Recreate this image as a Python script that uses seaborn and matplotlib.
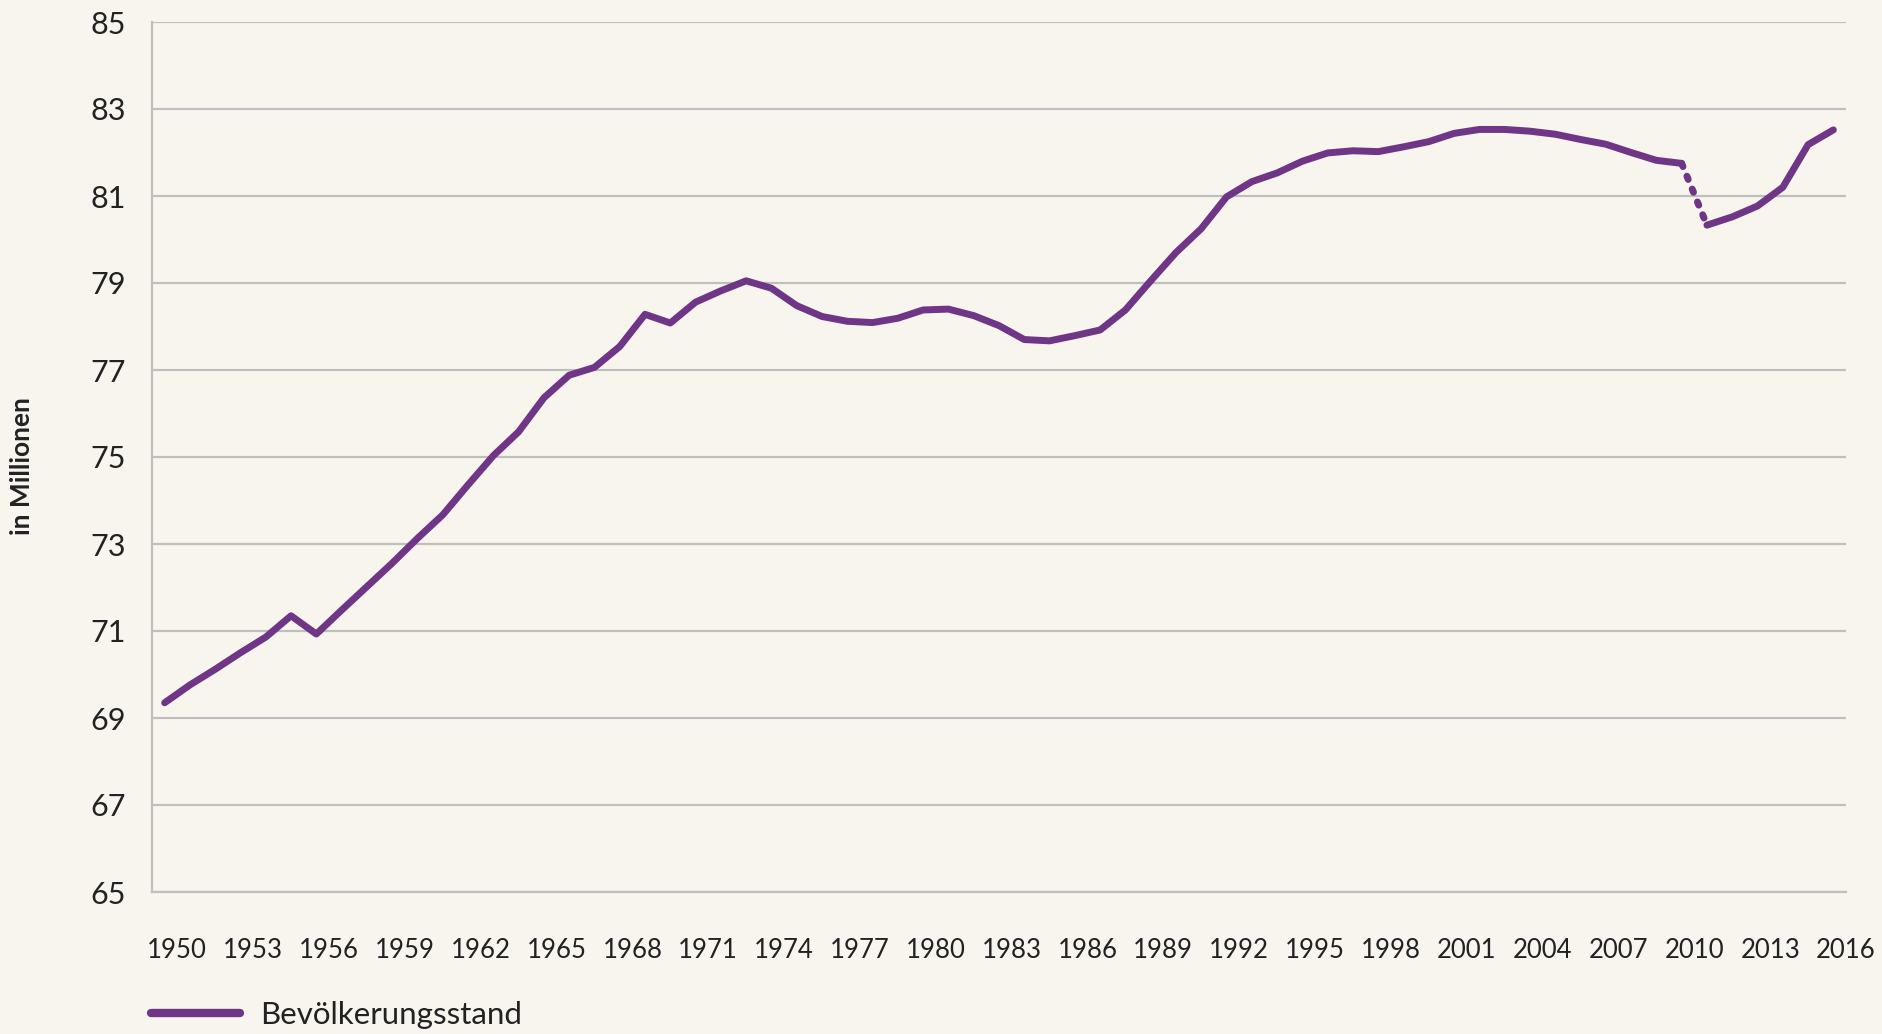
import matplotlib.pyplot as plt
import pandas as pd
import seaborn as sns

# Bevölkerungsstand Deutschland, 31.12., in Millionen
YEARS = list(range(1950, 2017))
POPULATION = [
    69.35, 69.76, 70.12, 70.50, 70.86, 71.35, 70.93, 71.48, 72.02, 72.56,
    73.13, 73.67, 74.36, 75.03, 75.58, 76.36, 76.88, 77.06, 77.54, 78.28,
    78.08, 78.56, 78.82, 79.05, 78.88, 78.48, 78.23, 78.12, 78.09, 78.19,
    78.38, 78.40, 78.25, 78.02, 77.70, 77.67, 77.79, 77.92, 78.38, 79.05,
    79.70, 80.25, 80.98, 81.33, 81.53, 81.80, 81.99, 82.04, 82.02, 82.13,
    82.25, 82.44, 82.53, 82.53, 82.49, 82.42, 82.30, 82.19, 82.00, 81.82,
    81.75, 80.33, 80.52, 80.77, 81.20, 82.18, 82.52,
]
BREAK_YEAR = 2010  # census correction 2010 -> 2011 drawn dotted
TICK_YEARS = list(range(1950, 2017, 3))
Y_TICKS = list(range(65, 86, 2))
SERIES = "Bevölkerungsstand"
Y_LABEL = "in Millionen"

PURPLE = "#6f3586"
BG = "#f7f5ee"
GRID = "#bfbfbf"
LW = 5.0

sns.set_theme(style="white")
plt.rcParams["font.family"] = ["Lato", "DejaVu Sans"]


def main() -> None:
    df = pd.DataFrame({"year": YEARS, "pop": POPULATION})
    before = df[df["year"] <= BREAK_YEAR]
    gap = df[df["year"].between(BREAK_YEAR, BREAK_YEAR + 1)]
    after = df[df["year"] >= BREAK_YEAR + 1]

    fig = plt.figure(figsize=(18.83, 10.34), dpi=100, facecolor=BG)
    ax = fig.add_axes([152 / 1883, 1 - 892 / 1034, (1846 - 152) / 1883, 870 / 1034])
    ax.set_facecolor(BG)

    sns.lineplot(data=before, x="year", y="pop", ax=ax, color=PURPLE, lw=LW,
                 solid_capstyle="round", solid_joinstyle="round", label=SERIES)
    sns.lineplot(data=gap, x="year", y="pop", ax=ax, color=PURPLE, lw=LW,
                 linestyle=(0, (0.5, 1.5)), dash_capstyle="round")
    sns.lineplot(data=after, x="year", y="pop", ax=ax, color=PURPLE, lw=LW,
                 solid_capstyle="round", solid_joinstyle="round")

    ax.set_xlim(YEARS[0] - 0.5, YEARS[-1] + 0.5)
    ax.set_ylim(Y_TICKS[0], Y_TICKS[-1])
    ax.set_yticks(Y_TICKS)
    ax.set_yticklabels([str(v) for v in Y_TICKS])
    # ticks sit on category boundaries, labels follow the ticks
    ax.set_xticks([y + 0.5 for y in TICK_YEARS])
    ax.set_xticklabels([str(y) for y in TICK_YEARS])

    ax.grid(axis="y", color=GRID, lw=1.6)
    ax.set_axisbelow(True)
    for side in ("top", "right"):
        ax.spines[side].set_visible(False)
    for side in ("left", "bottom"):
        ax.spines[side].set_color(GRID)
        ax.spines[side].set_linewidth(1.6)

    ax.tick_params(axis="x", direction="in", length=16, width=1.4, color=GRID,
                   labelsize=18.5, labelcolor="#222222", pad=33)
    ax.tick_params(axis="y", length=0, labelsize=22, labelcolor="#222222", pad=19)
    ax.set_xlabel("")
    ax.set_ylabel("")

    fig.text(22 / 1883, 1 - 466 / 1034, Y_LABEL, rotation=90, ha="center", va="center",
             fontsize=19, fontweight="bold", color="#222222")

    leg = ax.legend(loc="center left", bbox_to_anchor=(138 / 1883, 1 - 1015 / 1034),
                    bbox_transform=fig.transFigure, frameon=False, fontsize=22.5,
                    handlelength=2.85, handletextpad=0.65, borderaxespad=0)
    for line in leg.get_lines():
        line.set_linewidth(6)
    for t in leg.get_texts():
        t.set_color("#222222")

    fig.savefig("out.png", dpi=100, facecolor=BG)
    plt.close(fig)


if __name__ == "__main__":
    main()
